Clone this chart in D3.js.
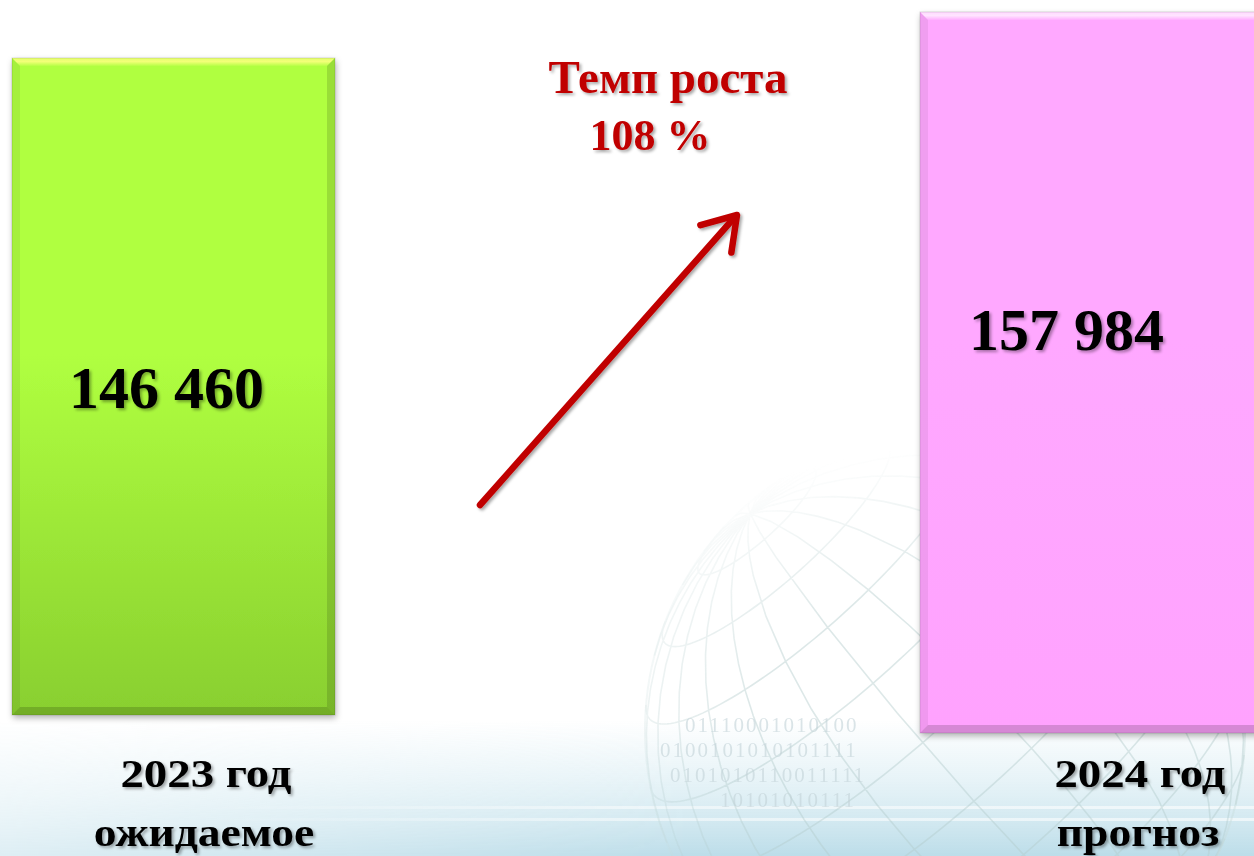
<!DOCTYPE html>
<html>
<head>
<meta charset="utf-8">
<script src="https://cdn.jsdelivr.net/npm/d3@7"></script>
<style>
  html, body { margin: 0; padding: 0; background: #fff; overflow: hidden; }
  svg { display: block; }
</style>
</head>
<body>
<div id="chart"></div>
<script>
// values
const categories = ["2023 год", "2024 год"];
const subLabels = ["ожидаемое", "прогноз"];
const values = [146460, 157984];
const growthTitle = "Темп роста";
const binaryRows = [
    "01110001010100",
    "0100101010101111",
    "0101010110011111",
    "10101010111"
];

const width = 1254, height = 856;

// colours per bar: [top, bottom]
const barColors = [
    ["#b0ff40", "#89cf2f"],
    ["#ffa8ff", "#ffa2fe"]
];
const topGlow = ["#f2ff78", "#ffe4ff"];
const baseY = [715, 733];      // bottom edge of each bar on the slide
const valueY = [408, 350];     // baseline of the number inside each bar
const valueDx = [-7, -15];
const bevel = 8;

const svg = d3.select("#chart").append("svg").attr("width", width).attr("height", height);
const defs = svg.append("defs");

// ---- background ----
svg.append("rect").attr("width", width).attr("height", height).attr("fill", "#fff");

const band = defs.append("linearGradient").attr("id", "band").attr("x1", 0).attr("y1", 0).attr("x2", 0).attr("y2", 1);
band.append("stop").attr("offset", "0").attr("stop-color", "#d6ebf2").attr("stop-opacity", 0);
band.append("stop").attr("offset", "0.45").attr("stop-color", "#d6ebf2").attr("stop-opacity", 0.6);
band.append("stop").attr("offset", "1").attr("stop-color", "#bcdde9").attr("stop-opacity", 1);
const bandMaskG = defs.append("linearGradient").attr("id", "bandMaskG").attr("x1", 0).attr("y1", 0).attr("x2", 1).attr("y2", 0);
bandMaskG.append("stop").attr("offset", "0").attr("stop-color", "#fff").attr("stop-opacity", 0.5);
bandMaskG.append("stop").attr("offset", "0.55").attr("stop-color", "#fff").attr("stop-opacity", 1);
defs.append("mask").attr("id", "bandMask").append("rect")
    .attr("y", 720).attr("width", width).attr("height", 136).attr("fill", "url(#bandMaskG)");
svg.append("rect").attr("y", 720).attr("width", width).attr("height", 136)
    .attr("fill", "url(#band)").attr("mask", "url(#bandMask)");
// light streaks across the band
const streak = defs.append("linearGradient").attr("id", "streak").attr("x1", 0).attr("y1", 0).attr("x2", 1).attr("y2", 0);
streak.append("stop").attr("offset", "0").attr("stop-color", "#fff").attr("stop-opacity", 0);
streak.append("stop").attr("offset", "0.4").attr("stop-color", "#fff").attr("stop-opacity", 0.5);
streak.append("stop").attr("offset", "1").attr("stop-color", "#fff").attr("stop-opacity", 0.6);
svg.append("g").selectAll("rect").data([806, 818]).enter().append("rect")
    .attr("x", 200).attr("y", function (d) { return d; }).attr("width", width - 200).attr("height", 3)
    .attr("fill", "url(#streak)");

// faint globe behind the chart
const globeFade = defs.append("radialGradient").attr("id", "globeFade").attr("cx", "0.6").attr("cy", "0.75").attr("r", "0.7");
globeFade.append("stop").attr("offset", "0").attr("stop-color", "#fff");
globeFade.append("stop").attr("offset", "0.55").attr("stop-color", "#fff");
globeFade.append("stop").attr("offset", "1").attr("stop-color", "#000");
defs.append("mask").attr("id", "gm").append("rect")
    .attr("x", 600).attr("y", 420).attr("width", 654).attr("height", 436).attr("fill", "url(#globeFade)");

const projection = d3.geoOrthographic().scale(300).translate([945, 730]).rotate([10, -14, 42]);
const geoPath = d3.geoPath(projection);
const globe = svg.append("g").attr("mask", "url(#gm)");
globe.append("path").datum(d3.geoGraticule().step([15, 15])())
    .attr("d", geoPath).attr("fill", "none").attr("stroke", "#b4cccc").attr("stroke-width", 1.6).attr("opacity", 0.45);
globe.append("path").datum({type: "Sphere"})
    .attr("d", geoPath).attr("fill", "none").attr("stroke", "#c8dcdc").attr("stroke-width", 2).attr("opacity", 0.45);

svg.append("g").selectAll("text").data(binaryRows).enter().append("text")
    .attr("x", function (d, i) { return [685, 660, 670, 720][i]; })
    .attr("y", function (d, i) { return 732 + i * 25; })
    .attr("font-family", "Liberation Serif").attr("font-size", 21).attr("letter-spacing", 2)
    .attr("fill", "#c3d3d8").attr("opacity", 0.6)
    .text(function (d) { return d; });

// ---- filters ----
const shadow = defs.append("filter").attr("id", "barShadow").attr("x", "-10%").attr("y", "-10%").attr("width", "130%").attr("height", "130%");
shadow.append("feDropShadow").attr("dx", 1).attr("dy", 3).attr("stdDeviation", 3).attr("flood-color", "#000").attr("flood-opacity", 0.3);
const tshadow = defs.append("filter").attr("id", "textShadow").attr("x", "-10%").attr("y", "-20%").attr("width", "130%").attr("height", "150%");
tshadow.append("feDropShadow").attr("dx", 2).attr("dy", 2).attr("stdDeviation", 1.5).attr("flood-color", "#000").attr("flood-opacity", 0.35);

// ---- scales ----
const x = d3.scaleBand().domain(categories).range([12, 1243]).paddingInner(0.6443).paddingOuter(0);
// the slide's bars do not start at zero, so the height scale has a floor
const h = d3.scaleLinear().domain([28164, 157984]).range([0, 721]);

categories.forEach(function (c, i) {
    const g = defs.append("linearGradient").attr("id", "bar" + i).attr("x1", 0).attr("y1", 0).attr("x2", 0).attr("y2", 1);
    g.append("stop").attr("offset", "0").attr("stop-color", barColors[i][0]);
    g.append("stop").attr("offset", "0.45").attr("stop-color", barColors[i][0]);
    g.append("stop").attr("offset", "1").attr("stop-color", barColors[i][1]);
    const t = defs.append("linearGradient").attr("id", "glow" + i).attr("x1", 0).attr("y1", 0).attr("x2", 0).attr("y2", 1);
    t.append("stop").attr("offset", "0").attr("stop-color", topGlow[i]).attr("stop-opacity", 0.8);
    t.append("stop").attr("offset", "0.45").attr("stop-color", topGlow[i]).attr("stop-opacity", 1);
    t.append("stop").attr("offset", "1").attr("stop-color", topGlow[i]).attr("stop-opacity", 0.1);
});

const bars = svg.append("g").selectAll("g").data(values).enter().append("g");

bars.each(function (v, i) {
    const gBar = d3.select(this);
    const x0 = x(categories[i]);
    const w = i === categories.length - 1 ? width - x0 + 20 : x.bandwidth();
    const y0 = baseY[i] - h(v), y1 = baseY[i], x1 = x0 + w;
    gBar.append("rect").attr("x", x0).attr("y", y0).attr("width", w).attr("height", h(v))
        .attr("fill", "url(#bar" + i + ")").attr("filter", "url(#barShadow)");
    const poly = function (pts, fill, op) {
        gBar.append("polygon").attr("points", pts.map(function (p) { return p.join(","); }).join(" "))
            .attr("fill", fill).attr("opacity", op);
    };
    poly([[x0, y0], [x1, y0], [x1 - bevel, y0 + bevel], [x0 + bevel, y0 + bevel]], "url(#glow" + i + ")", 1);
    poly([[x0, y0], [x0 + bevel, y0 + bevel], [x0 + bevel, y1 - bevel], [x0, y1]], "#000", 0.06);
    poly([[x1, y0], [x1, y1], [x1 - bevel, y1 - bevel], [x1 - bevel, y0 + bevel]], "#000", 0.13);
    poly([[x0, y1], [x0 + bevel, y1 - bevel], [x1 - bevel, y1 - bevel], [x1, y1]], "#000", 0.16);
    gBar.append("rect").attr("x", x0).attr("y", y0).attr("width", w).attr("height", h(v))
        .attr("fill", "none").attr("stroke", "#000").attr("stroke-opacity", 0.12).attr("stroke-width", 1);
});

// numbers inside bars
const fmt = function (v) { return d3.format(",")(v).replace(/,/g, " "); };
svg.append("g").selectAll("text").data(values).enter().append("text")
    .attr("x", function (d, i) { return x(categories[i]) + x.bandwidth() / 2 + valueDx[i]; })
    .attr("y", function (d, i) { return valueY[i]; })
    .attr("text-anchor", "middle")
    .attr("font-family", "Liberation Serif").attr("font-weight", "bold").attr("font-size", 60)
    .attr("fill", "#000").attr("filter", "url(#textShadow)")
    .text(fmt);

// category labels under bars
const labelCx = [206, 1140];
const labels = svg.append("g").selectAll("g").data(categories).enter().append("g")
    .attr("font-family", "Liberation Serif").attr("font-weight", "bold").attr("font-size", 40)
    .attr("fill", "#000").attr("filter", "url(#textShadow)").attr("text-anchor", "middle");
labels.append("text")
    .attr("transform", function (d, i) { return "translate(" + labelCx[i] + ",787) scale(1.17,1)"; })
    .text(function (d) { return d; });
labels.append("text")
    .attr("transform", function (d, i) { return "translate(" + (labelCx[i] - 2) + ",846) scale(1.14,1)"; })
    .text(function (d, i) { return subLabels[i]; });

// growth rate annotation
const growth = values[1] / values[0] * 100;
const ann = svg.append("g").attr("font-family", "Liberation Serif").attr("font-weight", "bold")
    .attr("fill", "#c00000").attr("filter", "url(#textShadow)").attr("text-anchor", "middle");
ann.append("text").attr("x", 668).attr("y", 93).attr("font-size", 47).text(growthTitle);
ann.append("text").attr("x", 650).attr("y", 150).attr("font-size", 44).text(d3.format(".0f")(growth) + " %");

// arrow
const from = [480, 505], tip = [737, 215];
const ang = Math.atan2(from[1] - tip[1], from[0] - tip[0]);
const armLen = 38, spread = 33 * Math.PI / 180;
const arrow = svg.append("g").attr("stroke", "#c00000").attr("stroke-width", 6.5).attr("fill", "none")
    .attr("stroke-linecap", "round").attr("stroke-linejoin", "round").attr("filter", "url(#textShadow)");
arrow.append("line").attr("x1", from[0]).attr("y1", from[1]).attr("x2", tip[0] - 3).attr("y2", tip[1] + 3);
arrow.append("path").attr("d", d3.line()([
    [tip[0] + armLen * Math.cos(ang + spread), tip[1] + armLen * Math.sin(ang + spread)],
    tip,
    [tip[0] + armLen * Math.cos(ang - spread), tip[1] + armLen * Math.sin(ang - spread)]
]));
</script>
</body>
</html>
